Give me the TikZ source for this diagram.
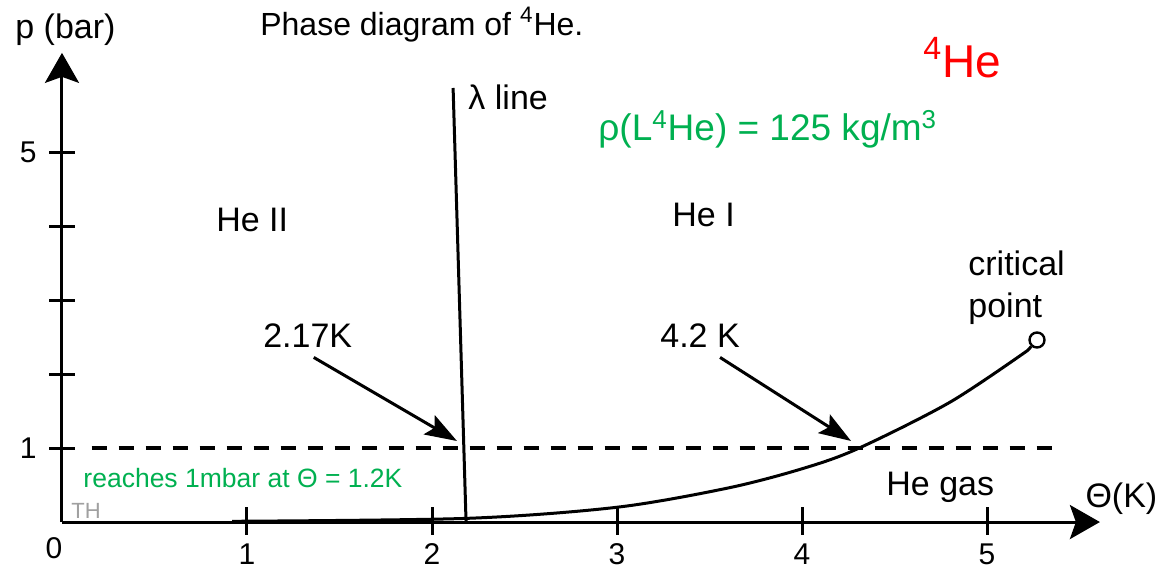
\documentclass[tikz,border=0pt]{standalone}
\usepackage{fontspec}
\setmainfont{Liberation Sans}
\usetikzlibrary{arrows.meta, positioning, calc}
\definecolor{PhaseGreen}{HTML}{00B050}
\definecolor{PhaseRed}{HTML}{FF0000}
\definecolor{PhaseGrey}{HTML}{A0A0A0}

\begin{document}
\begin{tikzpicture}[x=92.5pt, y=37pt, >=Stealth,
        axis/.style={line width=1.5pt, -{Stealth[length=15pt, width=17pt, inset=3pt]}},
        tick/.style={line width=1.5pt},
        lbl/.style={inner sep=0pt, font=\fontsize{17}{21}\selectfont},
        num/.style={inner sep=0pt, font=\fontsize{15}{18}\selectfont},
        note/.style={inner sep=0pt, text=PhaseGreen},
        pointer/.style={line width=1.5pt, -{Stealth[length=16pt, width=11pt, inset=3pt]}},
        curve/.style={line width=1.5pt}]

        \useasboundingbox (-0.335,-0.662) rectangle (5.924,7.054);

        % axes
        \coordinate (O) at (0,0);
        \coordinate (ytop) at (0,6.34);
        \coordinate (xend) at (5.61,0);
        \draw[axis] (O) -- (ytop);
        \draw[axis] (O) -- (xend);
        \foreach \y in {1,...,5}
            \draw[tick] (-0.068,\y) -- (0.068,\y);
        \foreach \x in {1,...,5}
            \draw[tick] (\x,-0.17) -- (\x,0.2);
        \node[num, anchor=east] (y1) at (-0.135,1) {1};
        \node[num, anchor=east] (y5) at (-0.135,5) {5};
        \node[num, anchor=base] (x0) at (-0.043,-0.486) {0};
        \foreach \x in {1,...,5}
            \node[num, anchor=base] (x\x) at (\x,-0.57) {\x};
        \node[lbl, anchor=base west] (ylab) at (-0.254,6.54) {p (bar)};
        \node[lbl, anchor=base west] (xlab) at (5.53,0.203) {Θ(K)};

        % 1 bar line
        \coordinate (dashL) at (0.16,1);
        \coordinate (dashR) at (5.38,1);
        \draw[line width=2pt, dash pattern=on 7.5pt off 6pt] (dashL) -- (dashR);

        % lambda line
        \coordinate (lamtop) at (2.114,5.865);
        \coordinate (lambot) at (2.184,0);
        \draw[curve] (lamtop) -- (lambot);
        \node[lbl, anchor=base west] (lam) at (2.195,5.57) {λ line};

        % vapour pressure curve
        \node[draw, circle, line width=1.2pt, minimum size=7.5pt, inner sep=0pt] (crit) at (5.27,2.46) {};
        \draw[curve] plot[smooth] coordinates {(0.92,0.01) (2.19,0.05) (3.0,0.2) (3.6,0.46) (4.0,0.72) (4.3,0.99) (4.8,1.62) (5.22,2.32)} -- (crit);

        % phases
        \node[lbl, anchor=base west] (he2) at (0.832,3.92) {He II};
        \node[lbl, anchor=base west] (he1) at (3.297,4.0) {He I};
        \node[lbl, anchor=base west] (gas) at (4.454,0.365) {He gas};
        \node[lbl, anchor=base west, align=left] (critlab) at (4.897,2.77) {critical\\point};

        % temperatures
        \node[lbl, anchor=base west] (t217) at (1.086,2.365) {2.17K};
        \node[lbl, anchor=base west] (t42) at (3.232,2.365) {4.2 K};
        \coordinate (tipL) at (2.135,1.095);
        \coordinate (tipB) at (4.265,1.095);
        \draw[pointer] ([xshift=3pt, yshift=-5pt]t217.south) -- (tipL);
        \draw[pointer] ([xshift=10pt, yshift=-5pt]t42.south) -- (tipB);

        % titles and notes
        \node[inner sep=0pt, anchor=base west, font=\fontsize{16}{19}\selectfont] (title) at (1.07,6.58) {Phase diagram of \textsuperscript{4}He.};
        \node[inner sep=0pt, anchor=base west, text=PhaseRed, font=\fontsize{23}{27}\selectfont] (iso) at (4.654,6.01) {\textsuperscript{4}He};
        \node[note, anchor=base west, font=\fontsize{18.5}{22}\selectfont] (rho) at (2.897,5.15) {ρ(L\textsuperscript{4}He) = 125 kg/m\textsuperscript{3}};
        \node[note, anchor=base west, font=\fontsize{13.25}{16}\selectfont] (mbar) at (0.114,0.473) {reaches 1mbar at Θ = 1.2K};
        \node[inner sep=0pt, anchor=base west, text=PhaseGrey, font=\fontsize{11}{13}\selectfont] (th) at (0.049,0.054) {TH};
\end{tikzpicture}
\end{document}
